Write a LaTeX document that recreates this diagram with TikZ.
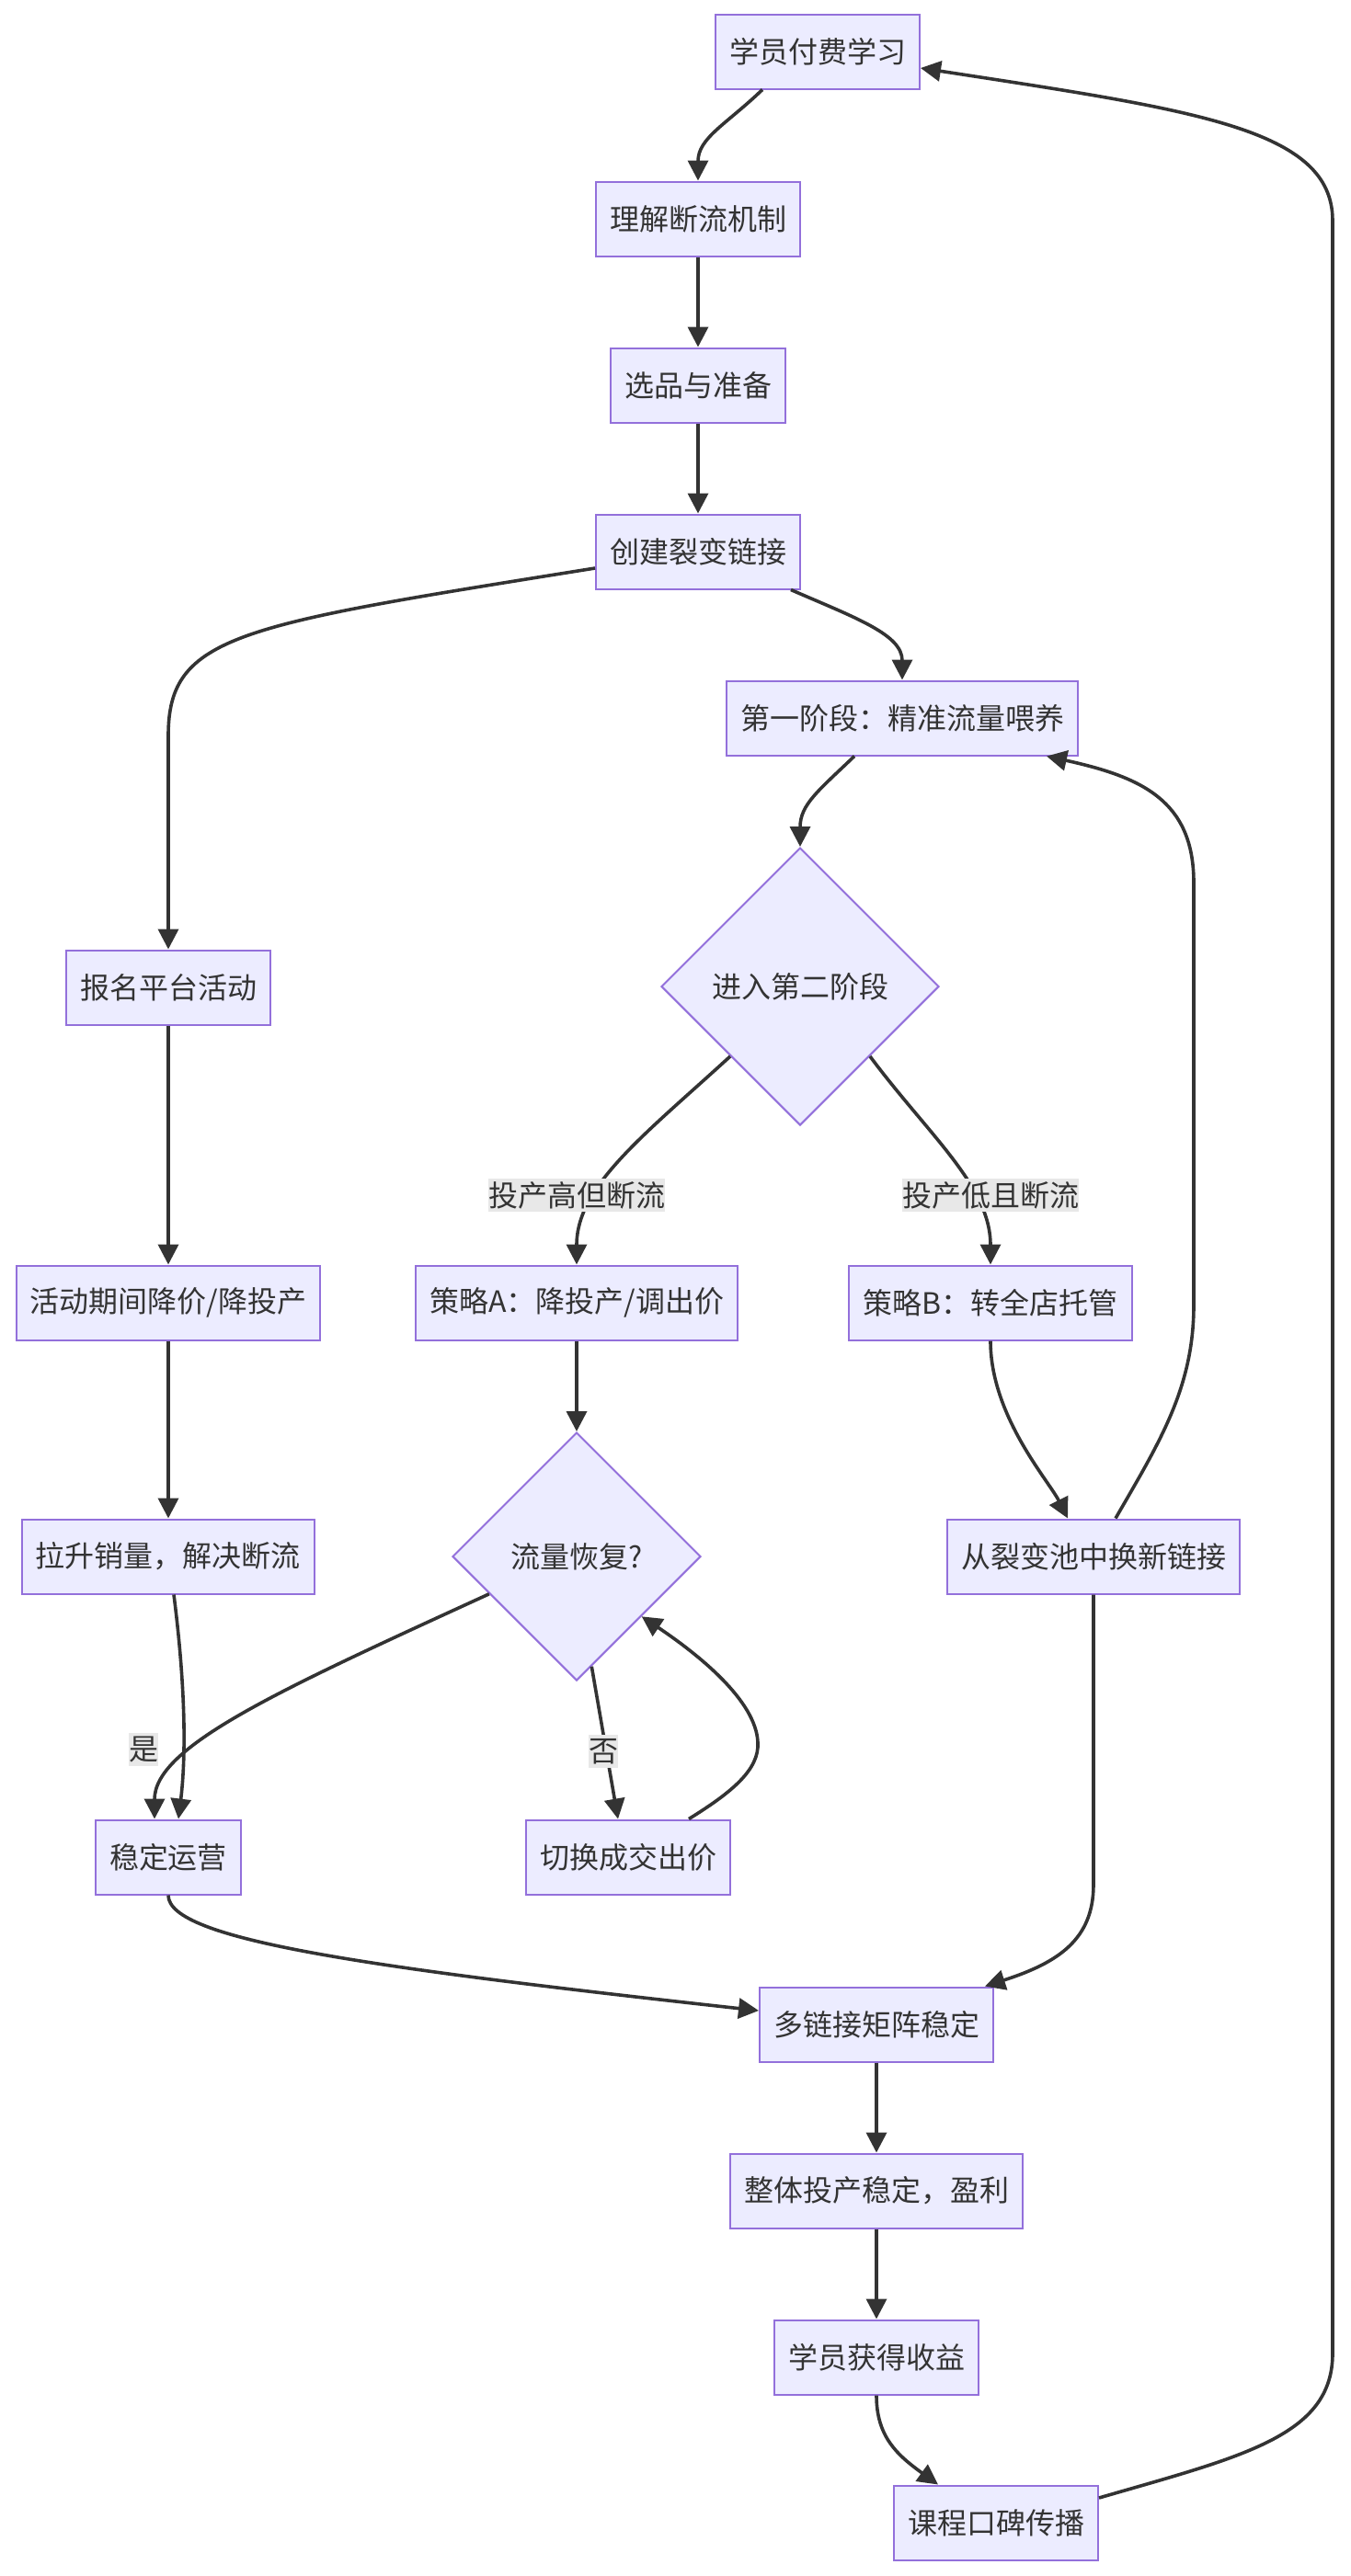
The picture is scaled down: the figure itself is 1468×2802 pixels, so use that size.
\documentclass[tikz,border=0pt]{standalone}
\usepackage{fontspec}
\setmainfont{Noto Sans CJK SC}
\usetikzlibrary{shapes.geometric,arrows.meta,calc}
\definecolor{boxfill}{HTML}{ECECFF}
\definecolor{boxline}{HTML}{9370DB}
\definecolor{edgecol}{HTML}{333333}
\definecolor{lblbg}{HTML}{E8E8E8}
\begin{document}
\begin{tikzpicture}[x=0.5pt,y=-0.5pt,
  txt/.style={text=edgecol,font=\fontsize{16pt}{19pt}\selectfont},
  box/.style={txt,draw=boxline,fill=boxfill,line width=1pt,minimum height=40.5pt,inner xsep=7.5pt,inner ysep=0pt},
  dia/.style={txt,diamond,draw=boxline,fill=boxfill,line width=1pt,inner sep=0pt},
  arr/.style={draw=edgecol,line width=1.8pt,-{Triangle[length=11pt,width=11pt]}},
  elabel/.style={txt,fill=lblbg,inner sep=0pt,minimum height=18pt}]
\fill[white] (0,0) rectangle (1468,2802);
\useasboundingbox (0,0) rectangle (1468,2802);

% nodes
\node[box] (n1) at (889,56) {学员付费学习};
\node[box] (n2) at (759,238) {理解断流机制};
\node[box] (n3) at (759,419) {选品与准备};
\node[box] (n4) at (759,600) {创建裂变链接};
\node[box] (n5) at (981,781) {第一阶段：精准流量喂养};
\node[dia,minimum width=151pt,minimum height=151pt] (d1) at (870,1073) {进入第二阶段};
\node[box] (n6) at (183,1074) {报名平台活动};
\node[box] (n7) at (183,1417) {活动期间降价/降投产};
\node[box] (n8) at (627,1417) {策略A：降投产/调出价};
\node[box] (n9) at (1077,1417) {策略B：转全店托管};
\node[box] (n10) at (183,1693) {拉升销量，解决断流};
\node[dia,minimum width=135pt,minimum height=135pt] (d2) at (627,1693) {流量恢复?};
\node[box] (n11) at (1189,1693) {从裂变池中换新链接};
\node[box] (n12) at (183,2020) {稳定运营};
\node[box] (n13) at (683,2020) {切换成交出价};
\node[box] (n14) at (953,2202) {多链接矩阵稳定};
\node[box] (n15) at (953,2383) {整体投产稳定，盈利};
\node[box] (n16) at (953,2564) {学员获得收益};
\node[box] (n17) at (1083,2744) {课程口碑传播};

% edges
\draw[arr] ($(n1.south)+(-60,0)$) .. controls (790,135) and (759,150) .. (n2.north);
\draw[arr] (n2) -- (n3);
\draw[arr] (n3) -- (n4);
\draw[arr] ($(n4.west)+(0,18)$) .. controls (260,680) and (183,690) .. (183,800) -- (n6.north);
\draw[arr] ($(n4.south east)+(-11,0)$) .. controls (930,672) and (981,690) .. (n5.north);
\draw[arr] ($(n5.south)+(-52,0)$) .. controls (890,860) and (870,875) .. (d1.north);
\draw[arr] ($(d1.west)!0.5!(d1.south)$) .. controls (700,1235) and (627,1290) .. (n8.north);
\draw[arr] ($(d1.east)!0.5!(d1.south)$) .. controls (1010,1235) and (1077,1290) .. (n9.north);
\draw[arr] (n6) -- (n7);
\draw[arr] (n7) -- (n10);
\draw[arr] (n8) -- (d2);
\draw[arr] (n9.south) .. controls (1077,1540) and (1140,1610) .. ($(n11.north)+(-28,0)$);
\draw[arr] ($(n11.north)+(24,0)$) .. controls (1260,1570) and (1298,1510) .. (1298,1420) -- (1298,960) .. controls (1298,870) and (1240,845) .. ($(n5.south east)+(-35,0)$);
\draw[arr] ($(n10.south)+(6,0)$) .. controls (205,1860) and (200,1930) .. ($(n12.north)+(11,0)$);
\draw[arr] ($(d2.west)!0.3!(d2.south)$) .. controls (300,1840) and (168,1900) .. ($(n12.north)+(-15,0)$);
\draw[arr] ($(d2.south)!0.12!(d2.east)$) -- ($(n13.north)+(-11,0)$);
\draw[arr] ($(n13.north)+(66,0)$) .. controls (795,1950) and (826,1925) .. (824,1895) .. controls (822,1850) and (760,1800) .. ($(d2.east)!0.48!(d2.south)$);
\draw[arr] (n11.south) -- (1189,2050) .. controls (1189,2110) and (1150,2135) .. ($(n14.north east)+(-10,0)$);
\draw[arr] (n12.south) .. controls (183,2110) and (400,2140) .. ($(n14.west)+(0,-15)$);
\draw[arr] (n14) -- (n15);
\draw[arr] (n15) -- (n16);
\draw[arr] (n16.south) .. controls (953,2650) and (975,2670) .. ($(n17.north)+(-63,0)$);
\draw[arr] ($(n17.east)+(0,-27)$) .. controls (1350,2672) and (1449,2650) .. (1449,2560) -- (1449,240) .. controls (1449,140) and (1300,120) .. ($(n1.east)+(0,18)$);

% edge labels
\node[elabel] (l1) at (627,1300) {投产高但断流};
\node[elabel] (l2) at (1077,1300) {投产低且断流};
\node[elabel] (l3) at (156,1903) {是};
\node[elabel] (l4) at (656,1905) {否};
\end{tikzpicture}
\end{document}
